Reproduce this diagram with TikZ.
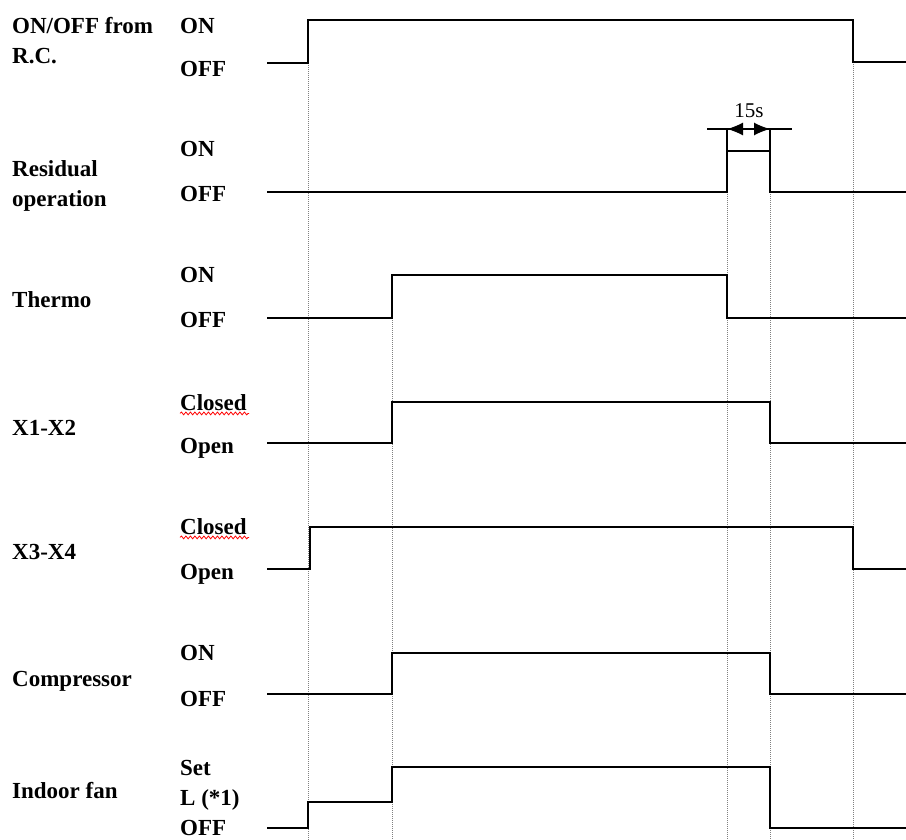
\documentclass[tikz,border=0pt]{standalone}
\usepackage{fontspec}
\setmainfont{Liberation Serif}
\usetikzlibrary{arrows.meta,decorations.pathmorphing}

\begin{document}
\begin{tikzpicture}[x=1pt, y=-1pt,
	lbl/.style={anchor=base west, inner sep=0pt, font=\fontsize{23}{25}\selectfont\bfseries},
	sig/.style={line width=1.5pt, line join=miter},
	guide/.style={densely dotted, gray, line width=1pt},
	spell/.style={red, line width=0.8pt, decorate, decoration={snake, amplitude=1.4pt, segment length=4.5pt}}]
	\useasboundingbox (0,0) rectangle (906,840);

	% signal names
	\node[lbl] (rc)   at (12,34)  {ON/OFF from};
	\node[lbl] (rc2)  at (12,64)  {R.C.};
	\node[lbl] (res)  at (12,177) {Residual};
	\node[lbl] (res2) at (12,207) {operation};
	\node[lbl] (th)   at (12,307) {Thermo};
	\node[lbl] (x12)  at (12,435) {X1-X2};
	\node[lbl] (x34)  at (12,559) {X3-X4};
	\node[lbl] (cmp)  at (12,686) {Compressor};
	\node[lbl] (fan)  at (12,798) {Indoor fan};

	% states
	\node[lbl] (rcon)   at (180,34)  {ON};
	\node[lbl] (rcoff)  at (180,77)  {OFF};
	\node[lbl] (reson)  at (180,157) {ON};
	\node[lbl] (resoff) at (180,202) {OFF};
	\node[lbl] (thon)   at (180,283) {ON};
	\node[lbl] (thoff)  at (180,327) {OFF};
	\node[lbl] (x12c)   at (180,410) {Closed};
	\node[lbl] (x12o)   at (180,453) {Open};
	\node[lbl] (x34c)   at (180,534) {Closed};
	\node[lbl] (x34o)   at (180,579) {Open};
	\node[lbl] (cmpon)  at (180,660) {ON};
	\node[lbl] (cmpoff) at (180,706) {OFF};
	\node[lbl] (fanset) at (180,775) {Set};
	\node[lbl] (fanl)   at (180,805) {L (*1)};
	\node[lbl] (fanoff) at (180,835) {OFF};

	\draw[spell] (x12c.south west) ++(0,3) -- ++(69,0);
	\draw[spell] (x34c.south west) ++(0,3) -- ++(69,0);

	% timing guides
	\draw[guide] (308,63)  -- (308,840);
	\draw[guide] (392,318) -- (392,840);
	\draw[guide] (727,192) -- (727,840);
	\draw[guide] (770,192) -- (770,840);
	\draw[guide] (853,62)  -- (853,840);

	% waveforms
	\draw[sig] (267,63)  -- (308,63)  -- (308,20)  -- (853,20)  -- (853,62)  -- (906,62);
	\draw[sig] (267,192) -- (727,192) -- (727,129);
	\draw[sig] (727,151) -- (770,151);
	\draw[sig] (770,129) -- (770,192) -- (906,192);
	\draw[sig] (267,318) -- (392,318) -- (392,275) -- (727,275) -- (727,318) -- (906,318);
	\draw[sig] (267,443) -- (392,443) -- (392,402) -- (770,402) -- (770,443) -- (906,443);
	\draw[sig] (267,569) -- (310,569) -- (310,527) -- (853,527) -- (853,569) -- (906,569);
	\draw[sig] (267,694) -- (392,694) -- (392,653) -- (770,653) -- (770,694) -- (906,694);
	\draw[sig] (267,828) -- (308,828) -- (308,802) -- (392,802) -- (392,767) -- (770,767) -- (770,828) -- (906,828);

	% 15 s residual time
	\draw[line width=1.3pt] (707,129) -- (792,129);
	\draw[line width=1.3pt, {Latex[length=16pt,width=13pt]}-{Latex[length=16pt,width=13pt]}] (727,129) -- (770,129);
	\node[font=\fontsize{21}{22}\selectfont, inner sep=0pt] (t15) at (749,111) {15s};
\end{tikzpicture}
\end{document}
